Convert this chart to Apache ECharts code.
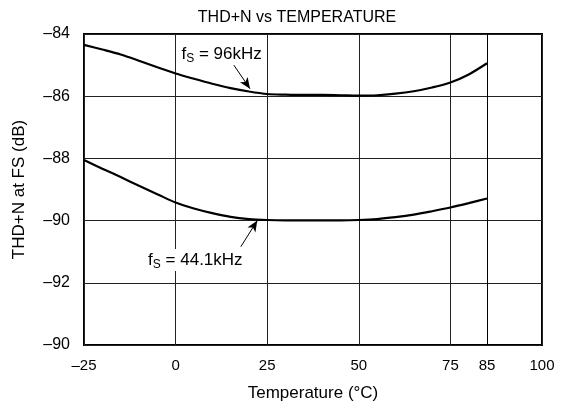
<!DOCTYPE html>
<html>
<head>
<meta charset="utf-8">
<script src="https://cdn.jsdelivr.net/npm/echarts@6/dist/echarts.min.js"></script>
<style>
html,body{margin:0;padding:0;background:#fff;}
#c{width:561px;height:411px;}
</style>
</head>
<body>
<div id="c"></div>
<script>
// ---- data ----
const temps = [-25, -20, -15, -10, -5, 0, 5, 10, 15, 20, 25, 30, 35, 40, 45, 50, 55, 60, 65, 70, 75, 80, 85];
const thd96 = [-84.35, -84.50, -84.66, -84.86, -85.07, -85.27, -85.44, -85.60, -85.74, -85.85, -85.93, -85.95, -85.96, -85.96, -85.97, -85.98, -85.97, -85.92, -85.84, -85.72, -85.56, -85.30, -84.94];
const thd44 = [-88.05, -88.33, -88.60, -88.88, -89.15, -89.42, -89.61, -89.76, -89.88, -89.95, -89.98, -89.99, -89.99, -89.99, -89.99, -89.98, -89.95, -89.89, -89.81, -89.70, -89.58, -89.44, -89.29];
const xTickValues = [-25, 0, 25, 50, 75, 85, 100];
const xTickLabels = ['–25', '0', '25', '50', '75', '85', '100'];
const yTickValues = [-94, -92, -90, -88, -86, -84];
const yTickLabels = ['–90', '–92', '–90', '–88', '–86', '–84'];
const titleText = 'THD+N vs TEMPERATURE';
const xName = 'Temperature (°C)';
const yName = 'THD+N at FS (dB)';

// annotation anchors (data space)
const ann96 = { text: ['f', 'S', ' = 96kHz'], at: [1.6, -84.64], arrowFrom: [15.9, -85.0], arrowTo: [20.3, -85.76] };
const ann44 = { text: ['f', 'S', ' = 44.1kHz'], at: [-7.5, -91.27], arrowFrom: [17.8, -90.84], arrowTo: [22.3, -90.0] };

const FONT = 'Liberation Sans, Arial, Helvetica, sans-serif';
const chart = echarts.init(document.getElementById('c'), null, { renderer: 'canvas' });

function zip(xs, ys) { return xs.map((x, i) => [x, ys[i]]); }
function arrowLine(a) {
  return [[{ coord: a.arrowFrom }, { coord: a.arrowTo }]];
}

const option = {
  backgroundColor: '#fff',
  animation: false,
  textStyle: { fontFamily: FONT },
  title: {
    text: titleText, left: 292, top: 5, textAlign: 'center',
    textStyle: { fontFamily: FONT, fontSize: 16, fontWeight: 'normal', color: '#000' }
  },
  grid: { left: 84, right: 19, top: 34, bottom: 66, show: true, borderColor: '#000', borderWidth: 2, backgroundColor: 'transparent' },
  xAxis: {
    type: 'value', min: -25, max: 100, interval: 25,
    name: xName, nameLocation: 'middle', nameGap: 40,
    nameTextStyle: { fontFamily: FONT, fontSize: 17, color: '#000' },
    axisLine: { show: false }, axisTick: { show: false },
    axisLabel: {
      customValues: xTickValues, margin: 13, fontFamily: FONT, fontSize: 15, color: '#000',
      formatter: v => xTickLabels[xTickValues.indexOf(v)]
    },
    splitLine: { show: true, lineStyle: { color: '#222', width: 1 } }
  },
  yAxis: {
    type: 'value', min: -94, max: -84, interval: 2,
    name: yName, nameLocation: 'middle', nameGap: 56,
    nameTextStyle: { fontFamily: FONT, fontSize: 17, color: '#000' },
    axisLine: { show: false }, axisTick: { show: false },
    axisLabel: {
      margin: 14, fontFamily: FONT, fontSize: 16, color: '#000',
      formatter: v => yTickLabels[yTickValues.indexOf(v)]
    },
    splitLine: { show: true, lineStyle: { color: '#222', width: 1 } }
  },
  series: [
    {
      type: 'line', data: zip(temps, thd96), smooth: 0.3, showSymbol: false,
      lineStyle: { color: '#000', width: 2.2 }, z: 5,
      markLine: {
        silent: true, symbol: ['none', 'arrow'], symbolSize: [7, 11],
        label: { show: false }, lineStyle: { color: '#000', width: 1, type: 'solid' },
        data: arrowLine(ann96)
      }
    },
    {
      type: 'line', data: zip(temps, thd44), smooth: 0.3, showSymbol: false,
      lineStyle: { color: '#000', width: 2.2 }, z: 5,
      markLine: {
        silent: true, symbol: ['none', 'arrow'], symbolSize: [7, 11],
        label: { show: false }, lineStyle: { color: '#000', width: 1, type: 'solid' },
        data: arrowLine(ann44).concat([[{ coord: [85, -94], symbol: 'none' }, { coord: [85, -84], symbol: 'none' }]])
      }
    }
  ]
};
chart.setOption(option);

function annText(a) {
  const p = chart.convertToPixel({ gridIndex: 0 }, a.at);
  return {
    type: 'text', x: p[0], y: p[1], z: 10,
    style: {
      text: '{f|' + a.text[0] + '}{s|' + a.text[1] + '}{r|' + a.text[2] + '}',
      verticalAlign: 'middle', align: 'left',
      backgroundColor: '#fff',
      rich: {
        f: { fontFamily: FONT, fontSize: 17, fill: '#000' },
        s: { fontFamily: FONT, fontSize: 12, fill: '#000', padding: [10, 0, 0, 0] },
        r: { fontFamily: FONT, fontSize: 17, fill: '#000' }
      }
    }
  };
}
chart.setOption({ graphic: [annText(ann96), annText(ann44)] });
</script>
</body>
</html>
